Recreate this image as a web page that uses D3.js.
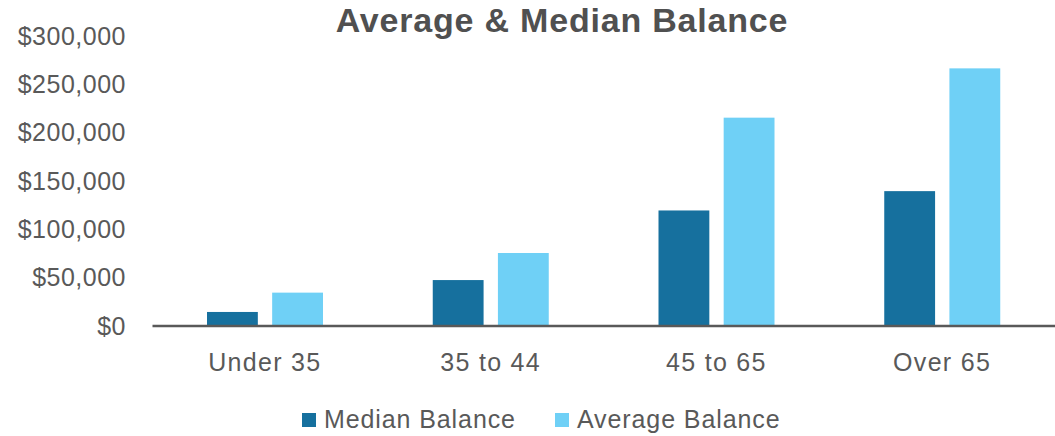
<!DOCTYPE html>
<html><head><meta charset="utf-8">
<script src="https://cdn.jsdelivr.net/npm/d3@7"></script>
<style>
html,body{margin:0;padding:0;background:#fff;}
svg text{font-family:"Liberation Sans",Arial,sans-serif;fill:#595959;}
</style></head>
<body><svg id="c" width="1055" height="436"></svg>
<script>
const categories = ["Under 35", "35 to 44", "45 to 65", "Over 65"];
const seriesNames = ["Median Balance", "Average Balance"];
const medianBalance = [14000, 47000, 119000, 139000];
const averageBalance = [34000, 75000, 215000, 266000];
const yTicks = [0, 50000, 100000, 150000, 200000, 250000, 300000];
const colors = ["#16709E", "#6FD0F6"];

const svg = d3.select("#c");
const m = {left:152, right:0};
const W = 1055, H = 436;
const x0 = d3.scaleBand().domain(categories).range([m.left, W - m.right]).padding(0);
const x1 = d3.scaleBand().domain(seriesNames).range([55, 226-55]).paddingInner(0.22).paddingOuter(0);
const y = d3.scaleLinear().domain([0, 300000]).range([325.5, 35.5]);

svg.append("text").attr("x", 562).attr("y", 32).attr("text-anchor","middle")
  .style("font-weight","bold").style("font-size","34px").style("letter-spacing","0.8px")
  .attr("fill","#505050").style("fill","#505050").text("Average & Median Balance");

// y axis labels
const yAxis = d3.axisLeft(y).tickValues(yTicks).tickSize(0).tickPadding(0)
  .tickFormat(d => "$" + d3.format(",")(d));
const ga = svg.append("g").attr("transform","translate(126,0)").call(yAxis);
ga.select(".domain").remove();
ga.selectAll("text").style("font-size","25px").style("letter-spacing","0.5px")
  .attr("fill","#595959").attr("dy","0.35em").attr("x",0);

const data = categories.map((c,i)=>({cat:c, vals:[medianBalance[i], averageBalance[i]]}));
const groups = svg.selectAll("g.grp").data(data).join("g").attr("class","grp")
  .attr("transform", d => `translate(${x0(d.cat)},0)`);
groups.selectAll("rect").data(d => d.vals.map((v,j)=>({s:seriesNames[j], v, j})))
  .join("rect")
  .attr("x", d => x1(d.s)).attr("width", x1.bandwidth())
  .attr("y", d => y(d.v)).attr("height", d => y(0) - y(d.v))
  .attr("fill", d => colors[d.j]);

// x axis
const xAxis = d3.axisBottom(x0).tickSize(0).tickPadding(0);
const gx = svg.append("g").attr("transform", `translate(0,${y(0)})`).call(xAxis);
gx.select(".domain").attr("stroke","#595959").attr("stroke-width",2.5);
gx.selectAll("text").style("font-size","25px").style("letter-spacing","1.3px")
  .attr("fill","#595959").attr("dy","0").attr("y",45);

// legend
const leg = svg.append("g");
const legX = [302, 555];
seriesNames.forEach((s,i)=>{
  leg.append("rect").attr("x", legX[i]).attr("y", 413).attr("width",14).attr("height",14).attr("fill",colors[i]);
  leg.append("text").attr("x", legX[i]+22).attr("y", 428).style("font-size","25px")
    .style("letter-spacing","0.9px").text(s);
});
</script></body></html>
